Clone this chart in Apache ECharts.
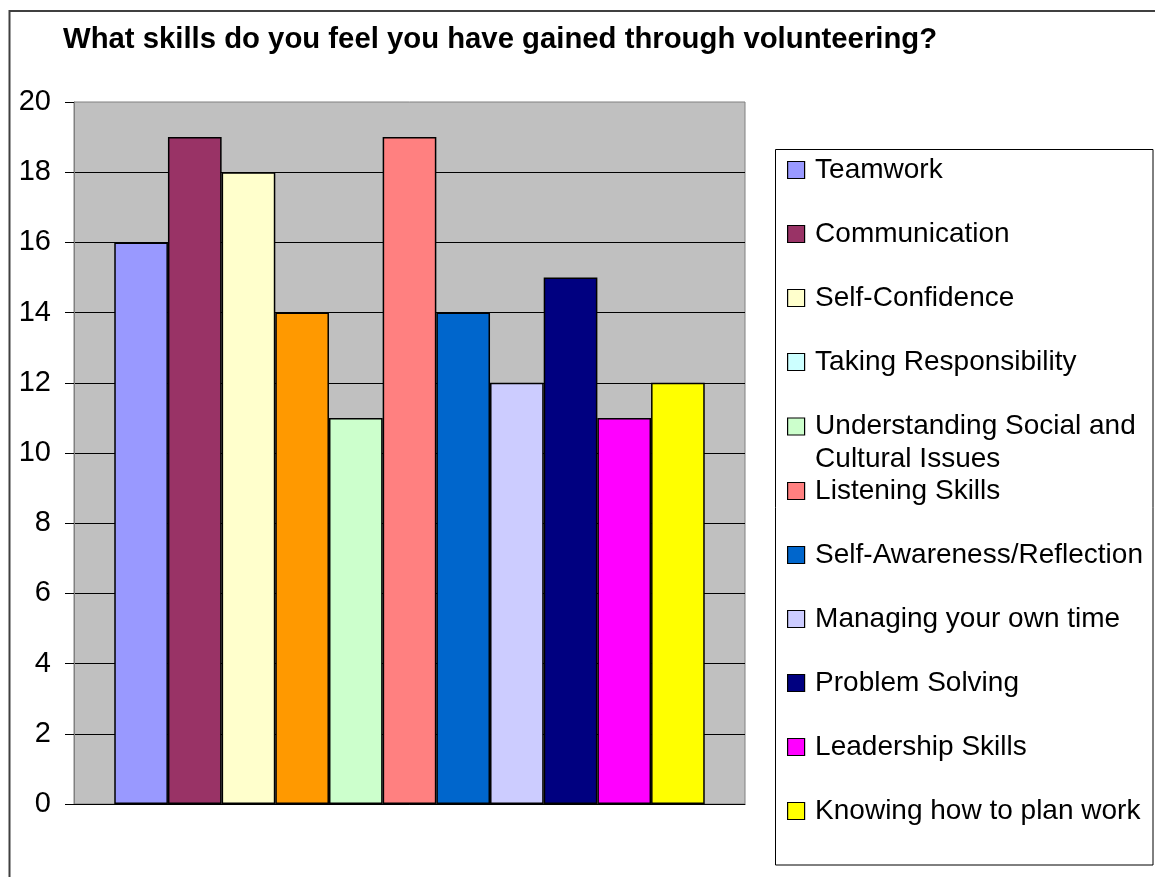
<!DOCTYPE html>
<html>
<head>
<meta charset="utf-8">
<style>
  html, body { margin: 0; padding: 0; background: #fff; }
  #chart { width: 1155px; height: 877px; }
</style>
<script src="https://cdn.jsdelivr.net/npm/echarts@6/dist/echarts.min.js"></script>
</head>
<body>
<div id="chart"></div>
<script>
// ---- data ----
var titleText = 'What skills do you feel you have gained through volunteering?';
var skills = [
  'Teamwork',
  'Communication',
  'Self-Confidence',
  'Taking Responsibility',
  'Understanding Social and Cultural Issues',
  'Listening Skills',
  'Self-Awareness/Reflection',
  'Managing your own time',
  'Problem Solving',
  'Leadership Skills',
  'Knowing how to plan work'
];
var values = [16, 19, 18, 14, 11, 19, 14, 12, 15, 11, 12];
var yTicks = { min: 0, max: 20, interval: 2 };

// ---- styles ----
var barColors = ['#9999FF', '#993366', '#FFFFCC', '#FF9900', '#CCFFCC', '#FF8080',
                 '#0066CC', '#CCCCFF', '#000080', '#FF00FF', '#FFFF00'];
var legendColors = ['#9999FF', '#993366', '#FFFFCC', '#CCFFFF', '#CCFFCC', '#FF8080',
                    '#0066CC', '#CCCCFF', '#000080', '#FF00FF', '#FFFF00'];
var FONT = '"Liberation Sans", Arial, Helvetica, sans-serif';

var series = skills.map(function (name, i) {
  return {
    name: name,
    type: 'bar',
    data: [values[i]],
    barGap: '0%',
    barCategoryGap: '12%',
    itemStyle: { color: barColors[i], borderColor: '#000', borderWidth: 1.5 },
    emphasis: { disabled: true }
  };
});

function legendItems(from, to) {
  var out = [];
  for (var i = from; i < to; i++) {
    out.push({ name: skills[i], itemStyle: { color: legendColors[i] } });
  }
  return out;
}

var legendBase = {
  orient: 'vertical',
  left: 787,
  padding: 0,
  itemGap: 32,
  itemWidth: 28,
  itemHeight: 17,
  icon: 'path://M0,0L10,0L10,10L0,10Z',
  selectedMode: false,
  itemStyle: { borderColor: '#000', borderWidth: 1.2 },
  textStyle: { fontFamily: FONT, fontSize: 28, color: '#000', lineHeight: 32 }
};

var legends = [
  Object.assign({}, legendBase, { top: 154, data: legendItems(0, 4) }),
  Object.assign({}, legendBase, {
    top: 377,
    data: legendItems(4, 5),
    formatter: function () { return '\nUnderstanding Social and\nCultural Issues'; },
    textStyle: { fontFamily: FONT, fontSize: 28, color: '#000', lineHeight: 33 }
  }),
  Object.assign({}, legendBase, { top: 475, data: legendItems(5, 11) })
];

var chart = echarts.init(document.getElementById('chart'), null, { renderer: 'canvas' });
chart.setOption({
  animation: false,
  backgroundColor: '#fff',
  title: {
    text: titleText,
    left: 63,
    top: 25,
    padding: 0,
    textStyle: { fontFamily: FONT, fontSize: 29.3, fontWeight: 'bold', color: '#000' }
  },
  graphic: [
    { type: 'rect', z: -10, silent: true,
      shape: { x: 9.5, y: 11, width: 1300, height: 1000 },
      style: { fill: 'none', stroke: '#404040', lineWidth: 2 } },
    { type: 'rect', z: -10, silent: true,
      shape: { x: 775.5, y: 149.5, width: 377.5, height: 715.5 },
      style: { fill: '#fff', stroke: '#000', lineWidth: 1 } }
  ],
  legend: legends,
  grid: {
    left: 74, right: 410, top: 102, bottom: 73,
    show: true, backgroundColor: '#C0C0C0', borderColor: '#808080', borderWidth: 1,
    containLabel: false
  },
  xAxis: {
    type: 'category',
    data: [''],
    axisLine: { show: true, lineStyle: { color: '#000', width: 1 } },
    axisTick: { show: false },
    axisLabel: { show: false },
    splitLine: { show: false }
  },
  yAxis: {
    type: 'value',
    min: yTicks.min,
    max: yTicks.max,
    interval: yTicks.interval,
    axisLine: { show: true, lineStyle: { color: '#808080', width: 1 } },
    axisTick: { show: true, inside: false, length: 9, lineStyle: { color: '#000', width: 1 } },
    axisLabel: { margin: 23, fontFamily: FONT, fontSize: 29, color: '#000' },
    splitLine: { show: true, showMaxLine: false, lineStyle: { color: '#000', width: 1 } }
  },
  series: series
});
</script>
</body>
</html>
